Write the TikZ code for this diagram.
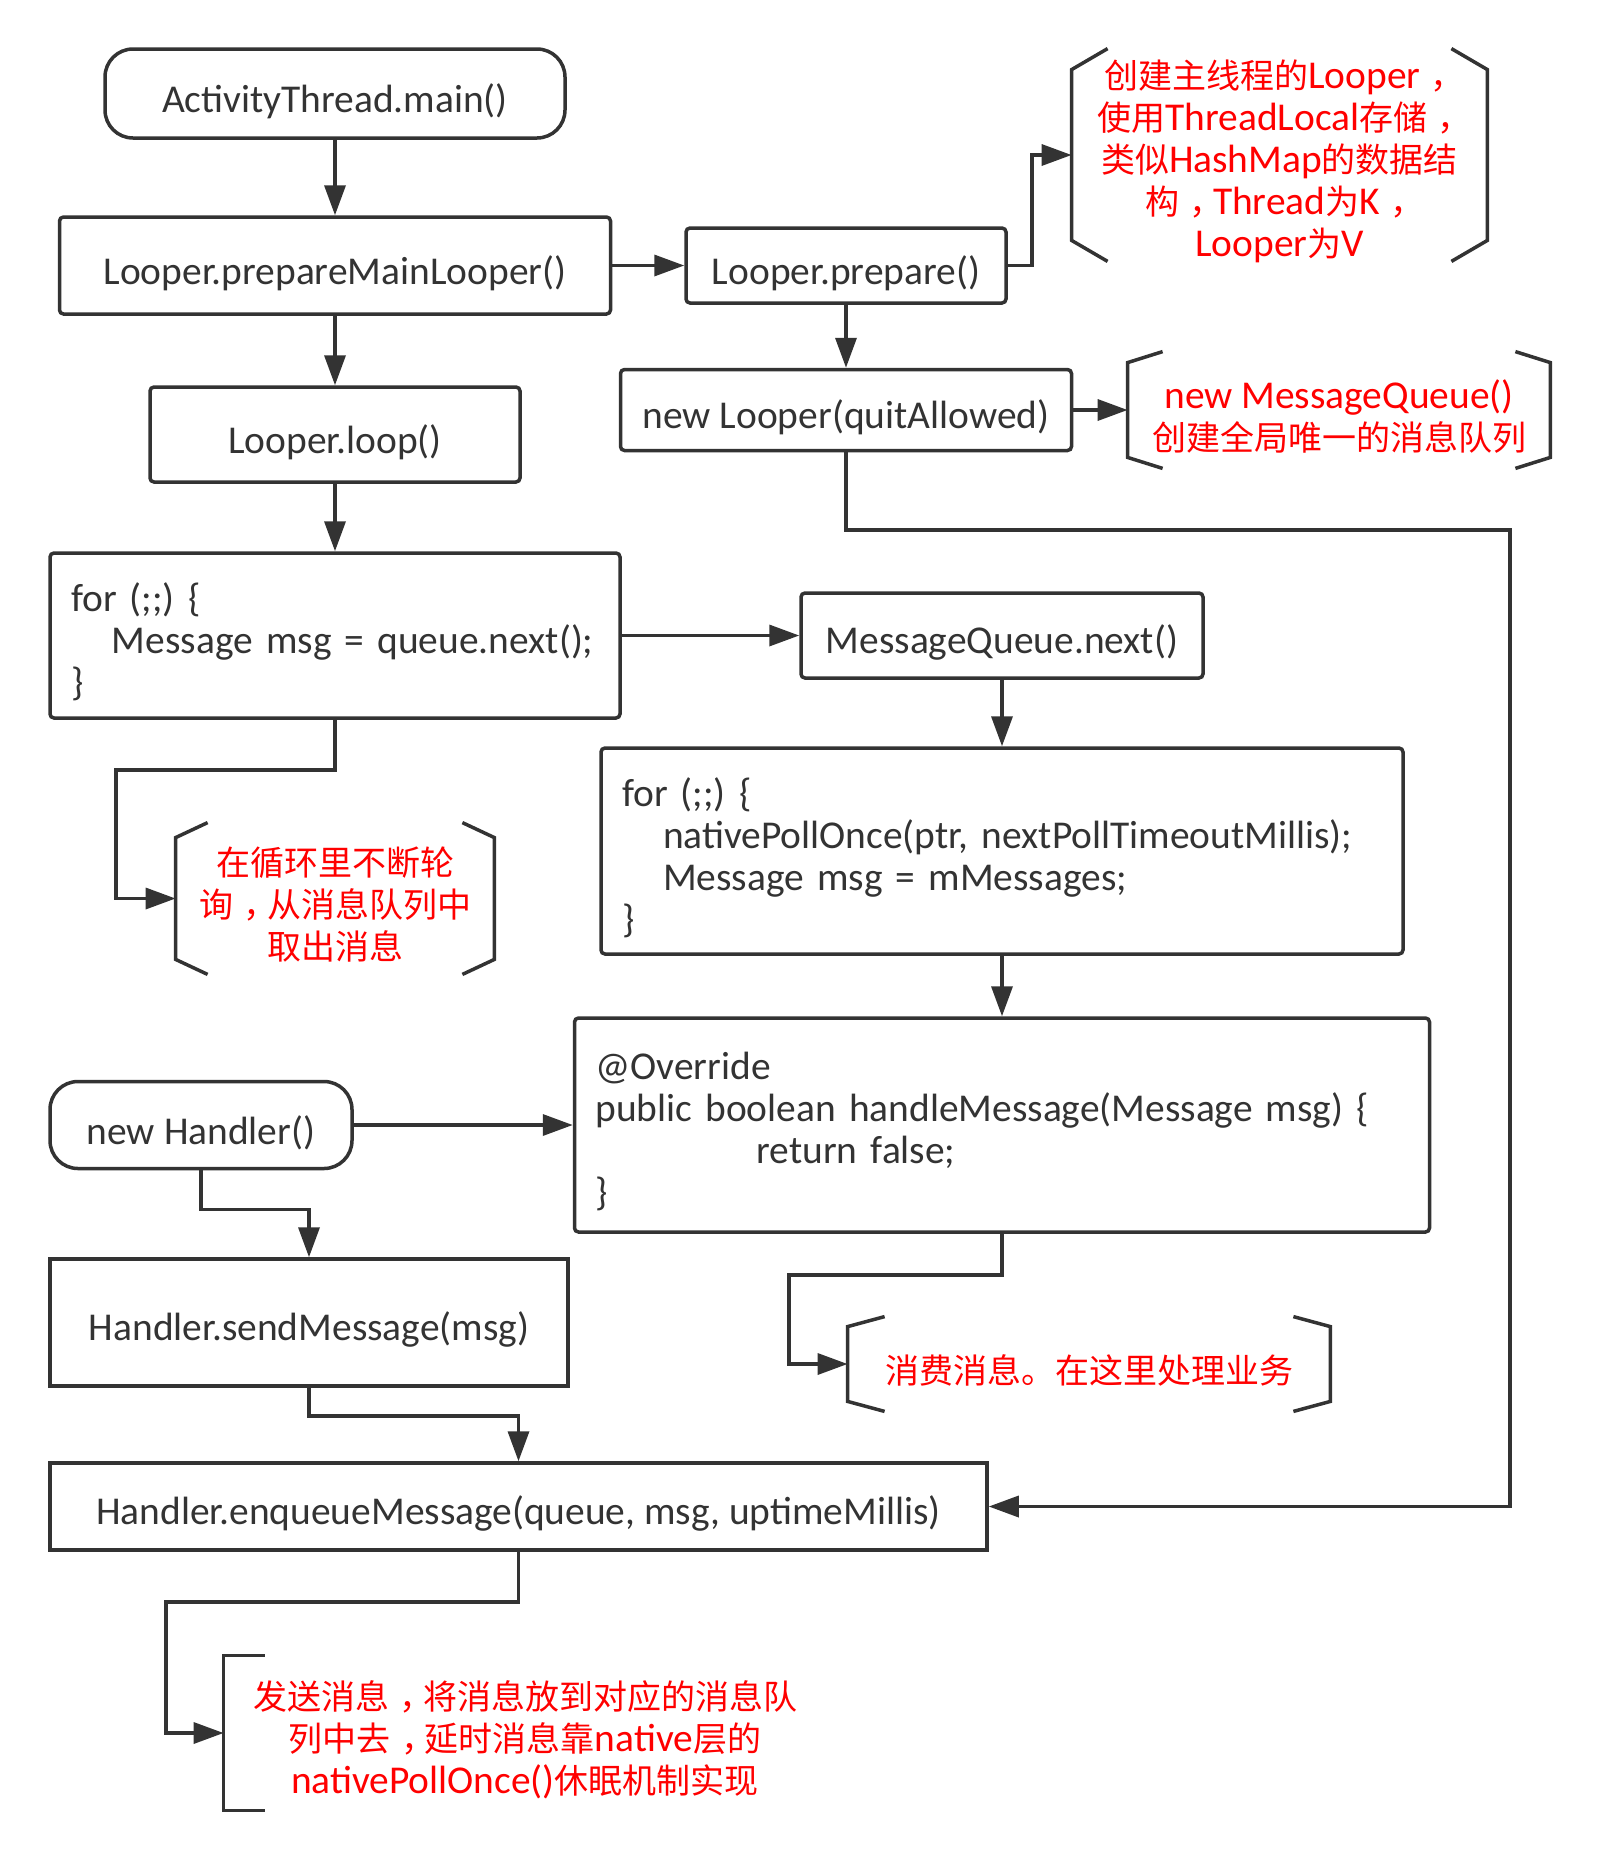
\documentclass[tikz,border=0pt]{standalone}
\usepackage{fontspec}
\setmainfont{Carlito}[Scale=1.16]
\newfontfamily\cjk{Noto Sans CJK SC}
\usetikzlibrary{arrows.meta}
\newcommand\zh[1]{{\cjk #1}}
\newcommand\cm{{\cjk\kern0.3em，\kern-0.3em}}
\definecolor{ln}{HTML}{333333}
\begin{document}
\begin{tikzpicture}[x=0.5pt,y=-0.5pt,
  every node/.style={font=\fontsize{17pt}{21pt}\selectfont},
  box/.style={draw=ln, line width=1.75pt, rounded corners=2pt, inner sep=0pt},
  sqbox/.style={box, sharp corners},
  term/.style={box, rounded corners=14pt},
  lbl/.style={inner sep=0pt, align=center, text=ln, yshift=-3.7pt},
  codelbl/.style={inner sep=0pt, align=left, text=ln, yshift=-3.2pt},
  frame/.style={inner sep=0pt},
  note/.style={inner sep=0pt, align=center, text=red, yshift=-3.2pt},
  brk/.style={draw=ln, line width=1.75pt},
  conn/.style={draw=ln, line width=1.75pt, -{Triangle[length=15pt,width=10.5pt]}}]
\fill[white] (0,0) rectangle (1598,1860);
\useasboundingbox (0,0) rectangle (1598,1860);

% boxes
\node[term, minimum width=230pt, minimum height=44.5pt] (A) at (335,93.5) {};
\node[box, minimum width=275.5pt, minimum height=48.5pt] (B) at (335,265.5) {};
\node[box, minimum width=160pt, minimum height=37.5pt] (C) at (846,265.5) {};
\node[box, minimum width=225.5pt, minimum height=40.5pt] (D) at (846,410) {};
\node[box, minimum width=185pt, minimum height=47.5pt] (E) at (335,434.5) {};
\node[box, minimum width=285pt, minimum height=82.5pt] (F) at (335,635.5) {};
\node[box, minimum width=201pt, minimum height=42.5pt] (G) at (1002,635.5) {};
\node[box, minimum width=401pt, minimum height=103pt] (H) at (1002,851) {};
\node[box, minimum width=427.5pt, minimum height=107pt] (I) at (1002,1125) {};
\node[term, minimum width=151pt, minimum height=43.5pt] (J) at (201,1125) {};
\node[sqbox, minimum width=259pt, minimum height=63.5pt] (K) at (309,1322.5) {};
\node[sqbox, minimum width=468.5pt, minimum height=43.5pt] (L) at (518.5,1506.5) {};

% box texts
\node[lbl] (At) at (A.center) {ActivityThread.main()};
\node[lbl] (Bt) at (B.center) {Looper.prepareMainLooper()};
\node[lbl] (Ct) at (C.center) {Looper.prepare()};
\node[lbl] (Dt) at (D.center) {new Looper(quitAllowed)};
\node[lbl] (Et) at (E.center) {Looper.loop()};
\node[codelbl, text width=264pt] (Ft) at (F.center)
  {for (;;) \{\\\hspace*{20.5pt}Message msg = queue.next();\\\}};
\node[lbl] (Gt) at (G.center) {MessageQueue.next()};
\node[codelbl, text width=380pt] (Ht) at (H.center)
  {for (;;) \{\\\hspace*{20.5pt}nativePollOnce(ptr, nextPollTimeoutMillis);\\\hspace*{20.5pt}Message msg = mMessages;\\\}};
\node[codelbl, text width=406.5pt] (It) at (I.center)
  {@Override\\public boolean handleMessage(Message msg) \{\\\hspace*{80.5pt}return false;\\\}};
\node[lbl] (Jt) at (J.center) {new Handler()};
\node[lbl] (Kt) at (K.center) {Handler.sendMessage(msg)};
\node[lbl] (Lt) at (L.center) {Handler.enqueueMessage(queue, msg, uptimeMillis)};

% notes
\node[frame, minimum width=207.5pt, minimum height=106pt] (N1) at (1279.5,155) {};
\node[note] (N1t) at (N1.center)
  {\zh{创建主线程的}Looper\cm\\\zh{使用}ThreadLocal\zh{存储}\cm\\\zh{类似}HashMap\zh{的数据结}\\\zh{构}\cm Thread\zh{为}K\cm\\Looper\zh{为}V};
\draw[brk] ([xshift=18pt]N1.north west) -- ([yshift=-10.5pt]N1.north west) -- ([yshift=10.5pt]N1.south west) -- ([xshift=18pt]N1.south west);
\draw[brk] ([xshift=-18pt]N1.north east) -- ([yshift=-10.5pt]N1.north east) -- ([yshift=10.5pt]N1.south east) -- ([xshift=-18pt]N1.south east);

\node[frame, minimum width=211pt, minimum height=58pt] (N2) at (1339,410) {};
\node[note] (N2t) at (N2.center) {new MessageQueue()\\\zh{创建全局唯一的消息队列}};
\draw[brk] ([xshift=17.5pt]N2.north west) -- ([yshift=-5.5pt]N2.north west) -- ([yshift=5.5pt]N2.south west) -- ([xshift=17.5pt]N2.south west);
\draw[brk] ([xshift=-17.5pt]N2.north east) -- ([yshift=-5.5pt]N2.north east) -- ([yshift=5.5pt]N2.south east) -- ([xshift=-17.5pt]N2.south east);

\node[frame, minimum width=159pt, minimum height=75.5pt] (N3) at (335,898.5) {};
\node[note] (N3t) at (N3.center) {\zh{在循环里不断轮}\\\zh{询}\cm\zh{从消息队列中}\\\zh{取出消息}};
\draw[brk] ([xshift=16pt]N3.north west) -- ([yshift=-7.5pt]N3.north west) -- ([yshift=7.5pt]N3.south west) -- ([xshift=16pt]N3.south west);
\draw[brk] ([xshift=-16pt]N3.north east) -- ([yshift=-7.5pt]N3.north east) -- ([yshift=7.5pt]N3.south east) -- ([xshift=-16pt]N3.south east);

\node[frame, minimum width=241pt, minimum height=47pt] (N4) at (1089,1364) {};
\node[note] (N4t) at (N4.center) {\zh{消费消息。在这里处理业务}};
\draw[brk] ([xshift=18.5pt]N4.north west) -- ([yshift=-5pt]N4.north west) -- ([yshift=5pt]N4.south west) -- ([xshift=18.5pt]N4.south west);
\draw[brk] ([xshift=-18.5pt]N4.north east) -- ([yshift=-5pt]N4.north east) -- ([yshift=5pt]N4.south east) -- ([xshift=-18.5pt]N4.south east);

\node[frame, minimum width=301pt, minimum height=77pt] (N5) at (525,1733) {};
\node[note] (N5t) at (N5.center)
  {\zh{发送消息}\cm\zh{将消息放到对应的消息队}\\\zh{列中去}\cm\zh{延时消息靠}native\zh{层的}\\nativePollOnce()\zh{休眠机制实现}};
\draw[brk] ([xshift=20.5pt]N5.north west) -- (N5.north west) -- (N5.south west) -- ([xshift=20.5pt]N5.south west);

% connectors
\coordinate (R) at (1510,530);
\coordinate (P3) at (116,770);
\coordinate (P4) at (789,1275);
\coordinate (P5) at (166,1602);
\draw[conn] (A.south) -- (B.north);
\draw[conn] (B.east) -- (C.west);
\draw[conn] (C.east) -- ++(24,0) |- (N1.west);
\draw[conn] (C.south) -- (D.north);
\draw[conn] (D.east) -- (N2.west);
\draw[conn] (D.south) |- (R) |- (L.east);
\draw[conn] (B.south) -- (E.north);
\draw[conn] (E.south) -- (F.north);
\draw[conn] (F.east) -- (G.west);
\draw[conn] (F.south) |- (P3) |- (N3.west);
\draw[conn] (G.south) -- (H.north);
\draw[conn] (H.south) -- (I.north);
\draw[conn] (J.east) -- (I.west);
\draw[conn] (J.south) -- ++(0,39) -| (K.north);
\draw[conn] (I.south) |- (P4) |- (N4.west);
\draw[conn] (K.south) -- ++(0,28) -| (L.north);
\draw[conn] (L.south) |- (P5) |- (N5.west);
\end{tikzpicture}
\end{document}
